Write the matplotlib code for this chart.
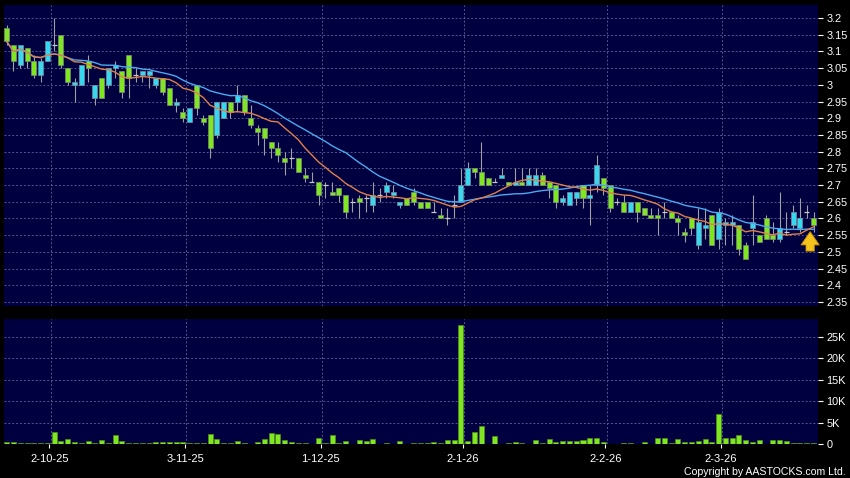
import matplotlib
matplotlib.use('Agg')
import matplotlib.pyplot as plt
import numpy as np
import pandas as pd
from matplotlib.ticker import MultipleLocator, FuncFormatter

# daily candles, oldest first
opens = [3.17, 3.12, 3.06, 3.11, 3.07, 3.03, 3.07, 3.12, 3.15, 3.05,
         3.00, 3.00, 3.07, 2.96, 3.02, 3.00, 3.05, 3.04, 3.09, 3.03,
         3.03, 3.03, 3.00, 3.02, 2.99, 2.94, 2.92, 2.89, 3.00, 2.90,
         2.91, 2.85, 2.90, 2.95, 2.95, 2.97, 2.90, 2.87, 2.87, 2.83,
         2.81, 2.78, 2.78, 2.78, 2.73, 2.71, 2.71, 2.70, 2.68, 2.69,
         2.67, 2.65, 2.66, 2.66, 2.64, 2.67, 2.68, 2.67, 2.64, 2.66,
         2.68, 2.65, 2.65, 2.62, 2.61, 2.60, 2.64, 2.65, 2.70, 2.75,
         2.74, 2.72, 2.71, 2.72, 2.71, 2.70, 2.71, 2.70, 2.70, 2.73,
         2.71, 2.70, 2.65, 2.64, 2.66, 2.70, 2.66, 2.70, 2.72, 2.70,
         2.65, 2.65, 2.62, 2.65, 2.63, 2.61, 2.61, 2.62, 2.62, 2.60,
         2.56, 2.60, 2.52, 2.57, 2.61, 2.54, 2.58, 2.58, 2.58, 2.52,
         2.57, 2.55, 2.60, 2.55, 2.54, 2.56, 2.58, 2.57, 2.62, 2.60]
highs = [3.18, 3.12, 3.12, 3.11, 3.09, 3.08, 3.13, 3.20, 3.15, 3.05,
         3.02, 3.06, 3.09, 3.00, 3.02, 3.05, 3.07, 3.04, 3.09, 3.05,
         3.04, 3.04, 3.02, 3.02, 2.99, 2.96, 2.93, 2.93, 3.00, 2.91,
         2.91, 2.95, 2.95, 2.95, 3.00, 2.97, 2.94, 2.88, 2.87, 2.83,
         2.83, 2.80, 2.81, 2.78, 2.75, 2.74, 2.71, 2.71, 2.71, 2.69,
         2.67, 2.66, 2.67, 2.67, 2.71, 2.69, 2.71, 2.70, 2.65, 2.66,
         2.69, 2.65, 2.65, 2.65, 2.63, 2.63, 2.67, 2.75, 2.77, 2.75,
         2.83, 2.72, 2.72, 2.75, 2.71, 2.75, 2.75, 2.75, 2.75, 2.74,
         2.71, 2.70, 2.67, 2.68, 2.68, 2.70, 2.70, 2.79, 2.72, 2.70,
         2.66, 2.67, 2.65, 2.65, 2.63, 2.63, 2.63, 2.65, 2.62, 2.61,
         2.57, 2.60, 2.63, 2.63, 2.61, 2.63, 2.60, 2.61, 2.58, 2.53,
         2.67, 2.55, 2.61, 2.59, 2.68, 2.62, 2.64, 2.66, 2.64, 2.62]
lows = [3.12, 3.04, 3.05, 3.05, 3.02, 3.01, 3.07, 3.10, 3.05, 3.00,
        2.95, 3.00, 3.01, 2.94, 2.96, 2.99, 3.02, 2.96, 2.96, 3.01,
        3.01, 2.99, 2.99, 2.97, 2.94, 2.92, 2.89, 2.89, 2.91, 2.88,
        2.78, 2.84, 2.90, 2.90, 2.92, 2.91, 2.87, 2.82, 2.79, 2.78,
        2.77, 2.73, 2.75, 2.74, 2.71, 2.71, 2.64, 2.66, 2.67, 2.65,
        2.60, 2.62, 2.60, 2.62, 2.62, 2.65, 2.66, 2.66, 2.63, 2.64,
        2.64, 2.63, 2.63, 2.62, 2.60, 2.58, 2.60, 2.65, 2.70, 2.72,
        2.70, 2.70, 2.71, 2.72, 2.70, 2.70, 2.70, 2.70, 2.70, 2.70,
        2.66, 2.63, 2.64, 2.64, 2.64, 2.63, 2.58, 2.68, 2.67, 2.62,
        2.64, 2.62, 2.62, 2.59, 2.61, 2.60, 2.55, 2.60, 2.60, 2.55,
        2.53, 2.55, 2.51, 2.54, 2.52, 2.51, 2.52, 2.52, 2.49, 2.48,
        2.52, 2.53, 2.54, 2.53, 2.53, 2.55, 2.57, 2.56, 2.60, 2.56]
closes = [3.13, 3.07, 3.12, 3.07, 3.03, 3.07, 3.13, 3.12, 3.06, 3.01,
          3.01, 3.06, 3.05, 3.00, 2.96, 3.05, 3.06, 2.98, 3.02, 3.03,
          3.04, 3.04, 3.02, 2.98, 2.94, 2.95, 2.90, 2.93, 2.93, 2.89,
          2.81, 2.95, 2.95, 2.92, 2.97, 2.92, 2.88, 2.86, 2.84, 2.81,
          2.79, 2.77, 2.78, 2.74, 2.72, 2.71, 2.67, 2.70, 2.67, 2.67,
          2.62, 2.65, 2.65, 2.66, 2.67, 2.67, 2.70, 2.68, 2.65, 2.64,
          2.65, 2.63, 2.63, 2.62, 2.60, 2.60, 2.64, 2.70, 2.75, 2.74,
          2.70, 2.70, 2.71, 2.73, 2.70, 2.71, 2.70, 2.73, 2.73, 2.70,
          2.69, 2.65, 2.66, 2.68, 2.68, 2.66, 2.67, 2.76, 2.69, 2.63,
          2.65, 2.62, 2.65, 2.62, 2.61, 2.60, 2.60, 2.62, 2.60, 2.59,
          2.55, 2.57, 2.59, 2.58, 2.52, 2.62, 2.59, 2.59, 2.51, 2.48,
          2.59, 2.53, 2.54, 2.54, 2.57, 2.56, 2.62, 2.60, 2.62, 2.58]
# volume in thousands of shares
volumes_k = [0.47, 0.47, 0.15, 0.3, 0.3, 0.3, 0.15, 2.9, 0.7, 1.2,
             0.55, 0.25, 0.8, 0.3, 1.0, 0.3, 2.0, 0.8, 0.25, 0.25,
             0.25, 0.15, 0.4, 0.5, 0.4, 0.4, 0.4, 0.15, 0.15, 0.15,
             2.3, 1.25, 0.25, 0.25, 0.8, 0.25, 0.1, 0.55, 1.2, 2.5,
             2.35, 0.85, 0.5, 0.3, 0.25, 0.1, 1.4, 0.25, 2.1, 0.3,
             0.8, 0.1, 0.95, 0.8, 1.2, 0.1, 0.15, 0.1, 0.6, 0.1,
             0.15, 0.15, 0.15, 0.45, 0.15, 0.95, 0.85, 27.7, 0.7, 2.9,
             4.1, 0.1, 1.9, 0.1, 0.25, 0.55, 0.3, 0.1, 0.95, 0.3,
             1.1, 0.4, 0.6, 0.6, 0.7, 0.95, 1.5, 1.4, 0.55, 0.1,
             0.1, 0.25, 0.15, 0.1, 0.45, 0.1, 1.3, 1.4, 0.25, 1.2,
             0.45, 0.45, 0.6, 1.2, 0.55, 7.1, 1.3, 1.5, 2.1, 0.85,
             0.4, 0.95, 0.1, 0.85, 0.85, 0.7, 0.15, 0.15, 0.25, 0.25]

date_labels = ['2-10-25', '3-11-25', '1-12-25', '2-1-26', '2-2-26', '2-3-26']
date_index = [6, 26, 46, 67, 88, 105]

BG = '#000040'
GRID = '#55558a'
LIME = '#80e620'
CYAN = '#35d8ee'
WICK = '#a0a0a0'
FONT = 'Liberation Sans'


def style_axis(ax):
    ax.set_facecolor(BG)
    for s in ax.spines.values():
        s.set_visible(False)
    ax.yaxis.tick_right()
    ax.tick_params(axis='y', colors='white', length=3.5, width=0.8, pad=2.5,
                   labelsize=7.8)
    ax.grid(True, axis='y', color=GRID, linestyle=(0, (2, 2)), linewidth=0.7)
    ax.set_axisbelow(True)


def draw_candles(ax, x):
    o = np.array(opens)
    c = np.array(closes)
    ax.vlines(x, lows, highs, color=WICK, linewidth=0.8, zorder=2)
    up = c > o
    down = c < o
    flat = c == o
    w = 0.74
    ax.bar(x[up], (c - o)[up], bottom=o[up], width=w, color=CYAN,
           edgecolor='#7a8a9a', linewidth=0.5, zorder=3)
    ax.bar(x[down], (o - c)[down], bottom=c[down], width=w, color=LIME,
           edgecolor='#7a8a7a', linewidth=0.5, zorder=3)
    ax.hlines(c[flat], x[flat] - w / 2, x[flat] + w / 2, color='#c8c8c8',
              linewidth=0.9, zorder=3)


def main():
    n = len(closes)
    x = np.arange(n)

    fig = plt.figure(figsize=(8.5, 4.78), dpi=100)
    fig.patch.set_facecolor('black')
    left, width = 4 / 850, 814 / 850
    ax = fig.add_axes([left, 1 - 306 / 478, width, 301 / 478])
    ax2 = fig.add_axes([left, 1 - 444 / 478, width, 125 / 478])

    # price panel
    style_axis(ax)
    draw_candles(ax, x)
    s = pd.Series(closes)
    ma10 = s.rolling(10, min_periods=1).mean()
    ma20 = s.rolling(20, min_periods=1).mean()
    ax.plot(x, ma20, color='#4aaaf0', linewidth=1.0, zorder=4)
    ax.plot(x, ma10, color='#e0804a', linewidth=1.0, zorder=4)

    ax.set_ylim(2.338, 3.239)
    ax.yaxis.set_major_locator(MultipleLocator(0.05))
    ax.yaxis.set_major_formatter(FuncFormatter(lambda v, p: '%g' % round(v, 2)))

    # arrow pointing at the latest average
    tip = ma10.iloc[-1] - 0.006
    ax.annotate('', xy=(n - 1.5, tip), xytext=(n - 1.5, tip - 0.075),
                arrowprops=dict(arrowstyle='simple,head_width=1.1,head_length=0.8,tail_width=0.5',
                                fc='#f6c21c', ec='#c08a00', lw=0.6, mutation_scale=12),
                zorder=6)

    # volume panel
    style_axis(ax2)
    ax2.bar(x, volumes_k, width=0.74, color=LIME, edgecolor='#4f8f20',
            linewidth=0.5, zorder=3)
    ax2.set_ylim(0, 29.2)
    ax2.yaxis.set_major_locator(MultipleLocator(5))
    ax2.yaxis.set_major_formatter(FuncFormatter(
        lambda v, p: '0' if v == 0 else '%dK' % v))

    # vertical date grid sits between sessions, labels on the session
    for a in (ax, ax2):
        a.set_xlim(-0.4, 119.66)
        for i in date_index:
            a.axvline(i + 0.5, color=GRID, linestyle=(0, (2, 2)),
                      linewidth=0.7, zorder=0.5)
        for lab in a.get_yticklabels():
            lab.set_fontfamily(FONT)
    ax.set_xticks([])
    ax2.set_xticks([i + 0.3 for i in date_index])
    ax2.set_xticklabels(date_labels)
    ax2.tick_params(axis='x', colors='white', length=3, width=0.8, pad=4,
                    labelsize=8)
    for lab in ax2.get_xticklabels():
        lab.set_fontfamily(FONT)

    fig.text(0.995, 0.0125, 'Copyright by AASTOCKS.com Ltd.', ha='right',
             va='center', color='white', fontsize=7.6, fontfamily=FONT)

    fig.savefig('out.png', dpi=100, facecolor='black')


if __name__ == '__main__':
    main()
